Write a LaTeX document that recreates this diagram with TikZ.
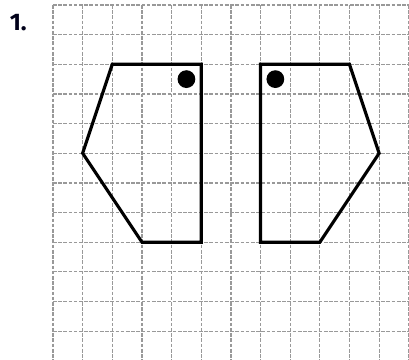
\documentclass[tikz,border=0pt]{standalone}
\usepackage{fontspec}
\newfontfamily\labelfont{Fira Sans}
\begin{document}
\begin{tikzpicture}[x=1cm,y=-1cm,
  gridline/.style={draw=gray!80, line width=1.2pt, dash pattern=on 3.5pt off 1.5pt},
  outline/.style={draw=black, line width=3pt, line join=miter},
  dot/.style={fill=black}]
\useasboundingbox (-1.7875,-0.1686) rectangle (12.007,11.973);
% grid
\foreach \i in {0,...,12} {
  \draw[gridline] (\i,0) -- (\i,12);
  \draw[gridline] (0,\i) -- (12,\i);
}
% label
\node[font={\labelfont\bfseries\fontsize{23}{26}\selectfont}, text=black!90!blue] (lbl) at (-1.17,0.6) {1.};
% left shape
\coordinate (a1) at (2,2);
\coordinate (a2) at (5,2);
\coordinate (a3) at (5,8);
\coordinate (a4) at (3,8);
\coordinate (a5) at (1,5);
\draw[outline] (a1) -- (a2) -- (a3) -- (a4) -- (a5) -- cycle;
\fill[dot] (4.5,2.5) circle (0.3);
% right shape
\coordinate (b1) at (7,2);
\coordinate (b2) at (10,2);
\coordinate (b3) at (11,5);
\coordinate (b4) at (9,8);
\coordinate (b5) at (7,8);
\draw[outline] (b1) -- (b2) -- (b3) -- (b4) -- (b5) -- cycle;
\fill[dot] (7.5,2.5) circle (0.3);
\end{tikzpicture}
\end{document}
